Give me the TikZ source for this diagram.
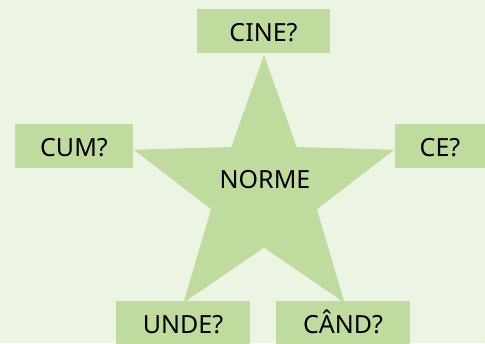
\documentclass[tikz,border=0pt]{standalone}
\usepackage{fontspec}
\setmainfont{Noto Sans}
\definecolor{fundal}{RGB}{236,244,228}
\definecolor{verde}{RGB}{192,219,158}
\begin{document}
\begin{tikzpicture}[x=1pt,y=-1pt,
  cutie/.style={rectangle, fill=verde, inner sep=0pt, minimum height=44pt},
  text mare/.style={font=\fontsize{25}{30}\selectfont, text height=20pt, text depth=0pt}]
\fill[fundal] (0,0) rectangle (485,343);
\useasboundingbox (0,0) rectangle (485,343);
% steaua
\fill[verde] (264,55) -- (296.7,147) -- (394.3,149.7) -- (316.9,209.2) -- (344.5,302.8)
  -- (264,247.6) -- (183.5,302.8) -- (211.1,209.2) -- (133.7,149.7) -- (231.3,147) -- cycle;
\node [text mare] (norme) at (265,178) {NORME};
% intrebarile
\node [cutie, text mare, minimum width=133pt] (cine) at (263.5,31) {CINE?};
\node [cutie, text mare, minimum width=118pt] (cum) at (74,146) {CUM?};
\node [cutie, text mare, minimum width=90pt] (ce) at (440,146) {CE?};
\node [cutie, text mare, minimum width=134pt] (unde) at (183,323) {UNDE?};
\node [cutie, text mare, minimum width=134pt] (cand) at (343,323) {CÂND?};
\end{tikzpicture}
\end{document}
